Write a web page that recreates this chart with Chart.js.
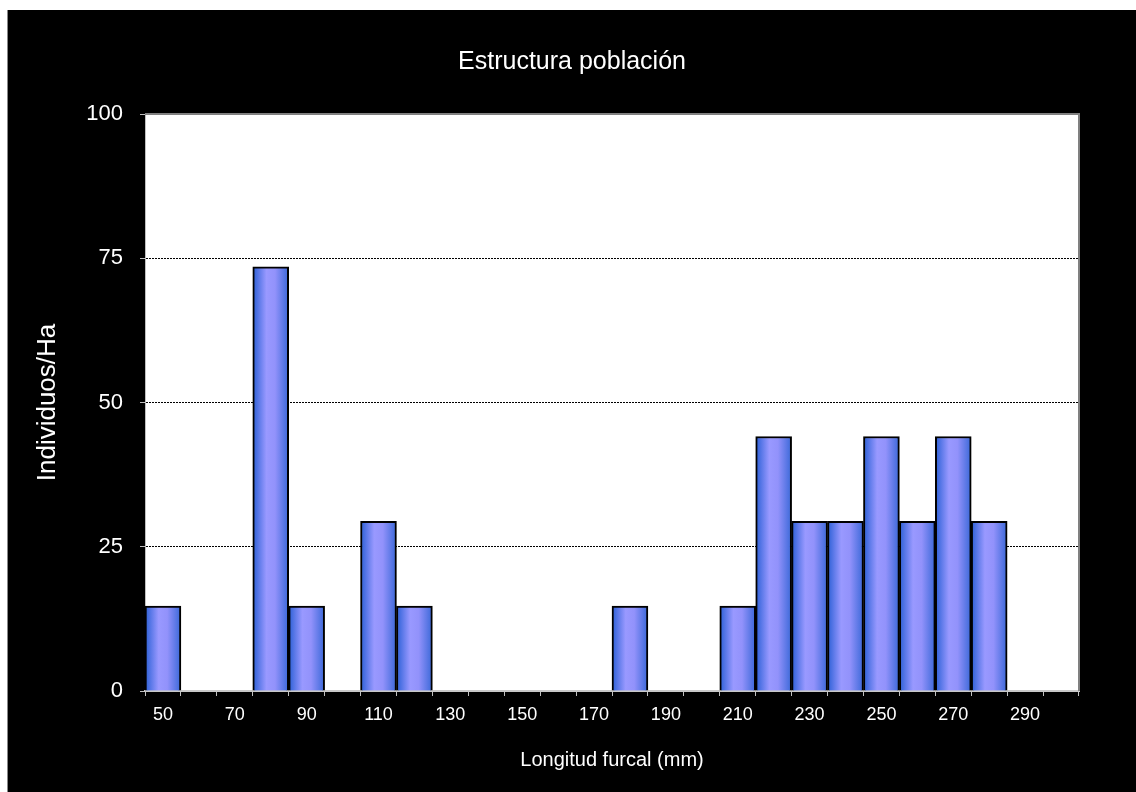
<!DOCTYPE html>
<html>
<head>
<meta charset="utf-8">
<script src="https://cdn.jsdelivr.net/npm/chart.js@4/dist/chart.umd.min.js"></script>
<style>
  html, body { margin: 0; padding: 0; background: #fff; }
  #wrap { position: absolute; left: 7px; top: 10px; width: 1129px; height: 782px; background: #000; border-left: 1px solid #888; box-sizing: border-box; }
</style>
</head>
<body>
<div id="wrap"><canvas id="grafico"></canvas></div>
<script>
const longitudes = ['50', '60', '70', '80', '90', '100', '110', '120', '130', '140', '150', '160', '170',
  '180', '190', '200', '210', '220', '230', '240', '250', '260', '270', '280', '290', '300'];
const individuos = [14.7, 0, 0, 73.5, 14.7, 0, 29.4, 14.7, 0, 0, 0, 0, 0,
  14.7, 0, 0, 14.7, 44.1, 29.4, 29.4, 44.1, 29.4, 44.1, 29.4, 0, 0];
const ticksY = [0, 25, 50, 75, 100];

const fuente = "'Liberation Sans', Arial, sans-serif";

// relleno degradado horizontal de cada barra
const degradado = (context) => {
  const chart = context.chart;
  const x = chart.scales.x;
  if (!x || !chart.chartArea) return '#8c8cf5';
  const centro = x.getPixelForValue(context.dataIndex);
  const mitad = x.width / longitudes.length / 2;
  const g = chart.ctx.createLinearGradient(centro - mitad, 0, centro + mitad, 0);
  g.addColorStop(0, '#2a5fd6');
  g.addColorStop(0.38, '#9999ff');
  g.addColorStop(0.62, '#9292fb');
  g.addColorStop(1, '#3a68d8');
  return g;
};

const areaBlanca = {
  id: 'areaBlanca',
  beforeDraw(chart) {
    const { ctx, chartArea: a } = chart;
    ctx.save();
    ctx.fillStyle = '#fff';
    ctx.fillRect(a.left, a.top, a.right - a.left, a.bottom - a.top);
    ctx.restore();
  },
  afterDraw(chart) {
    const { ctx, chartArea: a } = chart;
    ctx.save();
    ctx.strokeStyle = '#808080';
    ctx.lineWidth = 2;
    ctx.beginPath();
    ctx.moveTo(a.left, a.top);
    ctx.lineTo(a.right, a.top);
    ctx.lineTo(a.right, a.bottom);
    ctx.stroke();
    ctx.restore();
  }
};

const canvas = document.getElementById('grafico');
const chart = new Chart(canvas, {
  type: 'bar',
  data: {
    labels: longitudes,
    datasets: [
      {
        label: 'Individuos/Ha',
        data: individuos,
        backgroundColor: degradado,
        borderColor: '#000',
        borderWidth: 2,
        barPercentage: 1,
        categoryPercentage: 1,
      },
    ],
  },
  options: {
    responsive: true,
    maintainAspectRatio: false,
    animation: false,
    layout: { padding: 0 },
    plugins: {
      legend: { display: false },
      tooltip: { enabled: false },
      title: {
        display: true,
        text: 'Estructura población',
        color: '#fff',
        font: { family: fuente, size: 25, weight: 'normal' },
        padding: { top: 37, bottom: 37 },
      },
    },
    scales: {
      x: {
        afterFit: (s) => { s.height = 101; },
        grid: {
          offset: true,
          drawOnChartArea: false,
          drawTicks: true,
          tickLength: 5,
          tickColor: '#c0c0c0',
          color: '#c0c0c0',
        },
        border: { color: '#c8c8c8', width: 2 },
        ticks: {
          autoSkip: false,
          maxRotation: 0,
          color: '#fff',
          padding: 8,
          font: { family: fuente, size: 18 },
          callback: (v, i) => (i % 2 === 0 ? longitudes[i] : ''),
        },
        title: {
          display: true,
          text: 'Longitud furcal (mm)',
          color: '#fff',
          font: { family: fuente, size: 20 },
          padding: { top: 0, bottom: 20 },
        },
      },
      y: {
        min: 0,
        max: 100,
        afterFit: (s) => { s.width = 137; },
        afterBuildTicks: (s) => { s.ticks = ticksY.map((v) => ({ value: v })); },
        grid: {
          color: (c) => (c.tick && c.tick.value > 0 && c.tick.value < 100 ? '#000' : 'rgba(0,0,0,0)'),
          lineWidth: 1,
          tickLength: 5,
          tickColor: '#c0c0c0',
        },
        border: { color: '#c0c0c0', width: 1, dash: [2, 1] },
        ticks: {
          color: '#fff',
          padding: 17,
          font: { family: fuente, size: 22 },
        },
        title: {
          display: true,
          text: 'Individuos/Ha',
          color: '#fff',
          font: { family: fuente, size: 26 },
          padding: { top: 24, bottom: 0 },
        },
      },
      // eje vacío a la derecha, solo reserva el margen
      margen: {
        position: 'right',
        display: true,
        afterFit: (s) => { s.width = 57; },
        grid: { display: false },
        border: { display: false },
        ticks: { display: false },
      },
    },
  },
  plugins: [areaBlanca],
});
</script>
</body>
</html>
